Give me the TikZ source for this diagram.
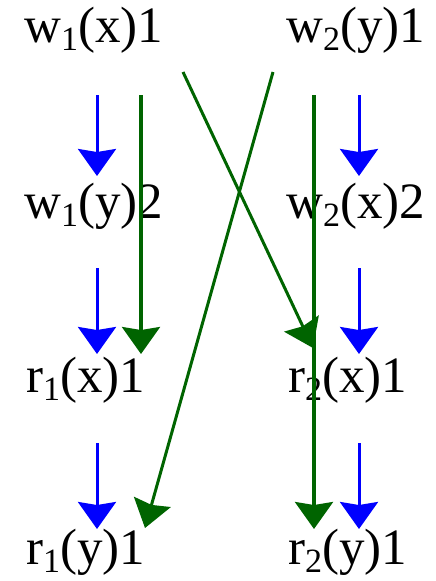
\documentclass[tikz,border=0pt]{standalone}
\usepackage{fontspec}
\setmainfont{Liberation Serif}
\usetikzlibrary{arrows.meta}
\definecolor{dgreen}{RGB}{0,100,0}
\newcommand\mysub[1]{\raisebox{-8pt}{\fontsize{34}{40}\selectfont #1}}
\begin{document}
\begin{tikzpicture}[x=1pt,y=-1pt,
  lbl/.style={anchor=west,inner sep=0pt,text=black,font=\fontsize{51}{60}\selectfont},
  headshape/.style={-{Stealth[length=27pt,width=38pt,inset=3pt]}},
  bluearr/.style={draw=blue,line width=3pt,headshape},
  greenarr/.style={draw=dgreen,line width=3.4pt,headshape},
  crossarr/.style={draw=dgreen,line width=3pt,headshape}]
\useasboundingbox (0,0) rectangle (436,581);
% labels
\node[lbl] (w1x) at (24,30) {w\mysub{1}(x)1};
\node[lbl] (w2y) at (286,30) {w\mysub{2}(y)1};
\node[lbl] (w1y) at (24,206) {w\mysub{1}(y)2};
\node[lbl] (w2x) at (286,206) {w\mysub{2}(x)2};
\node[lbl] (r1x) at (26,380) {r\mysub{1}(x)1};
\node[lbl] (r2x) at (288,380) {r\mysub{2}(x)1};
\node[lbl] (r1y) at (26,552) {r\mysub{1}(y)1};
\node[lbl] (r2y) at (288,552) {r\mysub{2}(y)1};
% coordinates
\coordinate (b1s) at (97,95);  \coordinate (b1e) at (97,176);
\coordinate (b2s) at (97,268); \coordinate (b2e) at (97,354);
\coordinate (b3s) at (97,443); \coordinate (b3e) at (97,529);
\coordinate (c1s) at (359,95);  \coordinate (c1e) at (359,176);
\coordinate (c2s) at (359,268); \coordinate (c2e) at (359,354);
\coordinate (c3s) at (359,443); \coordinate (c3e) at (359,529);
\coordinate (g1s) at (141,95); \coordinate (g1e) at (141,354);
\coordinate (g2s) at (314,95); \coordinate (g2e) at (314,529);
\coordinate (x1s) at (183,72); \coordinate (x1e) at (313,348);
\coordinate (x2s) at (273,72); \coordinate (x2e) at (145,528);
% arrows
\draw[bluearr] (b1s) -- (b1e);
\draw[bluearr] (b2s) -- (b2e);
\draw[bluearr] (b3s) -- (b3e);
\draw[bluearr] (c1s) -- (c1e);
\draw[bluearr] (c2s) -- (c2e);
\draw[bluearr] (c3s) -- (c3e);
\draw[greenarr] (g1s) -- (g1e);
\draw[greenarr] (g2s) -- (g2e);
\draw[crossarr] (x1s) -- (x1e);
\draw[crossarr] (x2s) -- (x2e);
\end{tikzpicture}
\end{document}
